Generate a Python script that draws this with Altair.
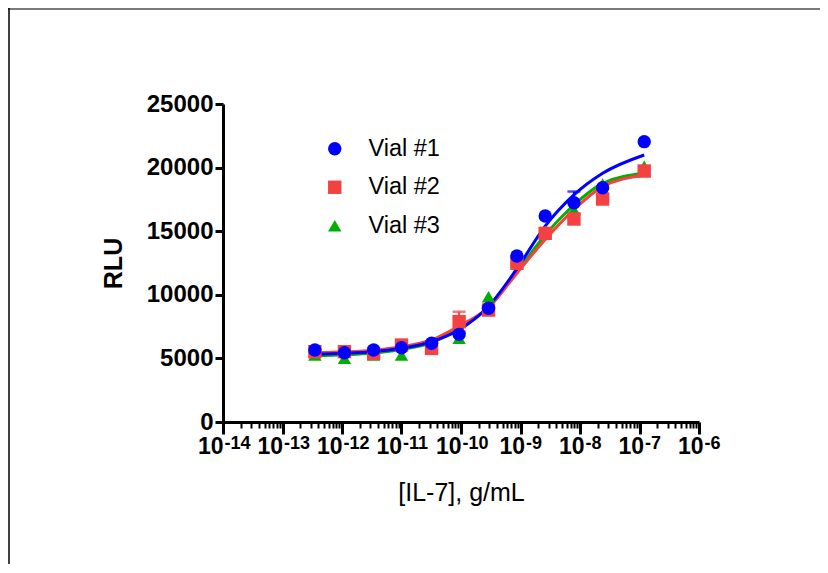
import altair as alt
import pandas as pd

# ---- data ----
vials = ["Vial #1", "Vial #2", "Vial #3"]
conc = [3.5e-13, 1.1e-12, 3.4e-12, 1.0e-11, 3.2e-11, 9.3e-11, 2.9e-10, 8.7e-10, 2.6e-9, 7.9e-9, 2.4e-8, 1.2e-7]
vial1 = [5660, 5450, 5660, 5840, 6190, 6890, 8940, 13050, 16190, 17240, 18420, 22040]
vial2 = [5530, 5530, 5400, 6050, 5790, 7890, 8800, 12480, 14830, 15960, 17530, 19730]
vial3 = [5270, 5010, 5270, 5270, 5800, 6580, 9850, 12700, 15000, 16670, 18700, 20100]
err1 = [0, 0, 0, 0, 0, 0, 0, 0, 0, 880, 0, 0]
err2 = [0, 0, 0, 0, 0, 780, 0, 0, 0, 0, 0, 0]
err3 = [0, 0, 0, 0, 0, 0, 0, 0, 0, 0, 0, 0]
fit1 = [5320, 5400, 5530, 5790, 6310, 7250, 9100, 12050, 15400, 17850, 19550, 20990]
fit2 = [5450, 5520, 5650, 5920, 6450, 7550, 9000, 11700, 14350, 16700, 18500, 19400]
fit3 = [5200, 5280, 5420, 5700, 6250, 7350, 9000, 11800, 14700, 17060, 18760, 19550]
colors = ["#0000FF", "#F44242", "#00B000"]
shapes = ["circle", "square", "triangle-up"]
y_ticks = [0, 5000, 10000, 15000, 20000, 25000]
major = [10.0 ** k for k in range(-14, -5)]
minor = [m * 10.0 ** k for k in range(-14, -6) for m in range(2, 10)]

FONT = "Liberation Sans"

series = {
    "Vial #1": (vial1, err1, fit1),
    "Vial #2": (vial2, err2, fit2),
    "Vial #3": (vial3, err3, fit3),
}

is_major = "abs(log(datum.value)/LN10 - round(log(datum.value)/LN10)) < 0.001"

xscale = alt.Scale(type="log", domain=[1e-14, 1e-6], nice=False)
yscale = alt.Scale(domain=[0, 25000], nice=False)
cscale = alt.Scale(domain=vials, range=colors)
sscale = alt.Scale(domain=vials, range=shapes)

x_axis = alt.Axis(
    values=major + minor,
    title="[IL-7], g/mL",
    titleFont=FONT, titleFontSize=25, titleFontWeight="normal", titleColor="black", titlePadding=22,
    labelExpr=f"{is_major} ? '10' : ''",
    labelAlign="right",
    labelOffset={"condition": {"test": "datum.value < 3e-10", "value": 0}, "value": 4},
    labelBaseline="top", labelPadding=1,
    labelFont=FONT, labelFontSize=23, labelFontWeight="bold", labelColor="black",
    labelOverlap=False, labelFlush=False,
    tickSize={"condition": {"test": is_major, "value": 12}, "value": 6},
    tickWidth={"condition": {"test": is_major, "value": 3}, "value": 2},
    tickColor="black", domainColor="black", domainWidth=3, grid=False,
)
exp_axis = alt.Axis(
    values=major, orient="bottom", title=None,
    labelExpr="'-' + (-round(log(datum.value)/LN10))",
    labelAlign="left",
    labelOffset={"condition": {"test": "datum.value < 3e-10", "value": 1}, "value": 5},
    labelBaseline="top", labelPadding=12,
    labelFont=FONT, labelFontSize=18, labelFontWeight="bold", labelColor="black",
    labelOverlap=False, labelFlush=False,
    ticks=False, tickSize=0, domain=False, grid=False,
)
y_axis = alt.Axis(
    values=y_ticks, title="RLU", format="d",
    titleFont=FONT, titleFontSize=25, titleFontWeight="bold", titleColor="black", titlePadding=20,
    labelFont=FONT, labelFontSize=24, labelFontWeight="bold", labelColor="black", labelPadding=2,
    tickSize=8, tickWidth=3, tickColor="black", domainColor="black", domainWidth=3, grid=False,
)

X = alt.X("conc:Q", scale=xscale, axis=x_axis)
Y = alt.Y("rlu:Q", scale=yscale, axis=y_axis)

one = pd.DataFrame({"a": [0]})
frame_top = alt.Chart(one).mark_rule(color="#7a7a7a", strokeWidth=2).encode(
    x=alt.value(-217), x2=alt.value(597), y=alt.value(-95))
frame_left = alt.Chart(one).mark_rule(color="black", strokeWidth=1.5).encode(
    x=alt.value(-214), y=alt.value(-96), y2=alt.value(460))

layers = [frame_top, frame_left]
order = ["Vial #3", "Vial #2", "Vial #1"]
# error bars
for name in order:
    ys, es, fs = series[name]
    col = colors[vials.index(name)]
    d = pd.DataFrame({"conc": conc, "rlu": ys, "err": es})
    d = d[d["err"] > 0].copy()
    if len(d) == 0:
        continue
    d["lo"] = d["rlu"] - d["err"]
    d["hi"] = d["rlu"] + d["err"]
    base = alt.Chart(d)
    layers.append(base.mark_rule(strokeWidth=2, color=col).encode(
        x=X, y=alt.Y("lo:Q", scale=yscale, axis=y_axis), y2="hi:Q"))
    for f in ["lo", "hi"]:
        layers.append(base.mark_tick(orient="horizontal", size=13, thickness=2.5, color=col).encode(
            x=X, y=alt.Y(f + ":Q", scale=yscale, axis=y_axis)))
# fitted curves
for name in order:
    ys, es, fs = series[name]
    col = colors[vials.index(name)]
    d = pd.DataFrame({"conc": conc, "rlu": fs})
    layers.append(alt.Chart(d).mark_line(strokeWidth=3, interpolate="monotone", color=col).encode(x=X, y=Y))

# points
rows = []
for name in order:
    ys, es, fs = series[name]
    for c, y in zip(conc, ys):
        rows.append({"conc": c, "rlu": y, "vial": name})
pts = pd.DataFrame(rows)
legend = alt.Legend(
    title=None, orient="none", legendX=100, legendY=33, padding=0,
    symbolSize=180, symbolStrokeWidth=0, labelFont=FONT, labelFontSize=23.5, labelColor="black",
    labelOffset=22, rowPadding=13.5,
)
points = alt.Chart(pts).mark_point(filled=True, size=180, opacity=1).encode(
    x=X, y=Y,
    color=alt.Color("vial:N", scale=cscale, legend=legend),
    shape=alt.Shape("vial:N", scale=sscale, legend=legend),
)
layers.append(points)

main = alt.layer(*layers)

exp_layer = alt.Chart(pd.DataFrame({"conc": major})).mark_point(opacity=0).encode(
    x=alt.X("conc:Q", scale=xscale, axis=exp_axis))

chart = alt.layer(main, exp_layer).resolve_scale(x="independent").resolve_axis(x="independent").properties(
    width=476, height=318,
    autosize=alt.AutoSizeParams(type="none"),
    padding={"left": 215, "top": 96, "right": 121, "bottom": 143},
).configure_view(stroke=None)

chart.save("out.html", embed_options={"renderer": "svg", "actions": False})
